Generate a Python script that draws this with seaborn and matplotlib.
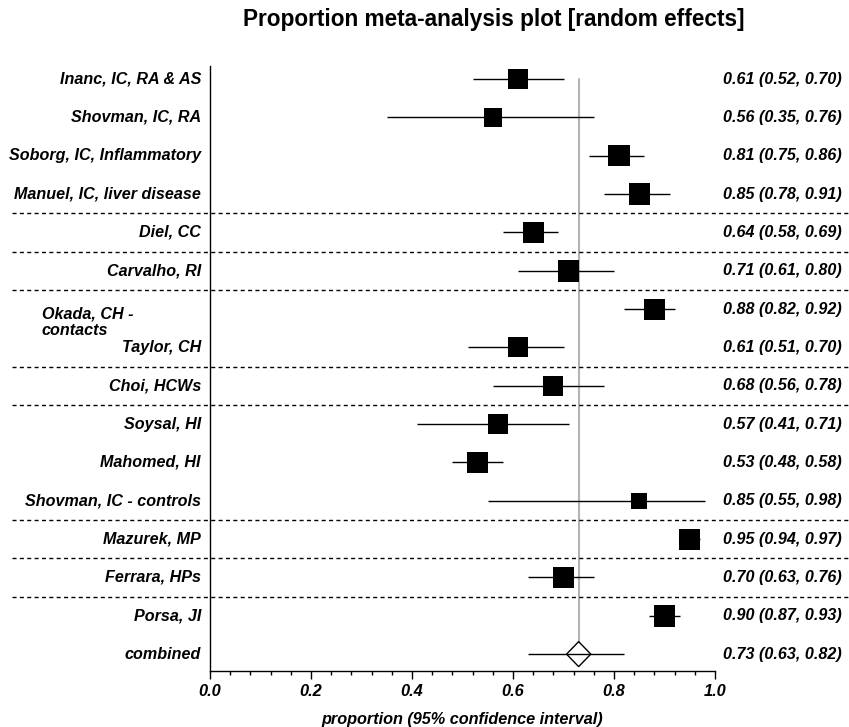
import matplotlib
matplotlib.use("Agg")
import matplotlib.pyplot as plt
import matplotlib.transforms as mtransforms
from matplotlib.ticker import MultipleLocator, FormatStrFormatter
import pandas as pd
import seaborn as sns

# ---- data -------------------------------------------------------------
studies = [
    "Inanc, IC, RA & AS", "Shovman, IC, RA", "Soborg, IC, Inflammatory",
    "Manuel, IC, liver disease", "Diel, CC", "Carvalho, RI",
    "Okada, CH -\ncontacts", "Taylor, CH", "Choi, HCWs", "Soysal, HI",
    "Mahomed, HI", "Shovman, IC - controls", "Mazurek, MP", "Ferrara, HPs",
    "Porsa, JI",
]
proportion = [0.61, 0.56, 0.81, 0.85, 0.64, 0.71, 0.88, 0.61, 0.68, 0.57,
              0.53, 0.85, 0.95, 0.70, 0.90]
ci_low = [0.52, 0.35, 0.75, 0.78, 0.58, 0.61, 0.82, 0.51, 0.56, 0.41,
          0.48, 0.55, 0.94, 0.63, 0.87]
ci_high = [0.70, 0.76, 0.86, 0.91, 0.69, 0.80, 0.92, 0.70, 0.78, 0.71,
           0.58, 0.98, 0.97, 0.76, 0.93]
pooled_label = "combined"
pooled = 0.73
pooled_low = 0.63
pooled_high = 0.82
# index of the last study in each group (a dashed separator follows it)
group_ends = [3, 4, 5, 7, 8, 11, 12, 13]

# ---- styling ----------------------------------------------------------
box_px = [19.3, 18.3, 21.3, 21.3, 21, 21.7, 21, 20, 20, 20, 21, 15.7,
          21, 21.7, 21.7]          # square side (pixels) ~ study weight
W, H, DPI = 849, 727, 100

sns.set_theme(style="white")
plt.rcParams["font.family"] = ["Liberation Sans", "DejaVu Sans"]
plt.rcParams["text.color"] = "black"
plt.rcParams["axes.labelcolor"] = "black"
plt.rcParams["xtick.color"] = "black"

fig = plt.figure(figsize=(W / DPI, H / DPI), dpi=DPI)
ax = fig.add_axes([210 / W, 56 / H, 505 / W, 605 / H])

n = len(studies)
rows = list(range(n))
df = pd.DataFrame({"study": studies, "p": proportion, "lo": ci_low,
                   "hi": ci_high, "row": rows,
                   "s": [(b * 72 / DPI) ** 2 for b in box_px]})

# vertical reference line at the pooled estimate
ax.plot([pooled, pooled], [0, n - 0.326], color="#b4b4b4", lw=1.5, zorder=1)

# confidence intervals
ax.hlines(df["row"], df["lo"], df["hi"], color="black", lw=1.0, zorder=2)
ax.hlines(n, pooled_low, pooled_high, color="black", lw=1.0, zorder=2)

# study squares
sns.scatterplot(data=df, x="p", y="row", marker="s", s=df["s"].tolist(),
                color="black", linewidth=0, ax=ax, zorder=3, legend=False)

# pooled diamond
dw, dh = 0.024, 0.326
ax.fill([pooled - dw, pooled, pooled + dw, pooled],
        [n, n - dh, n, n + dh], facecolor="none", edgecolor="black",
        lw=1.0, zorder=4)

ax.set_xlim(0, 1)
ax.set_ylim(n + 0.44, -0.34)

# group separators spanning the full figure width
blend = mtransforms.blended_transform_factory(fig.transFigure, ax.transData)
for g in group_ends:
    ax.plot([12 / W, 1.0], [g + 0.5, g + 0.5], transform=blend,
            color="black", lw=1.0, dashes=(2.9, 2.4), clip_on=False,
            zorder=1)

# labels
lab_kw = dict(fontsize=11.6, fontweight="bold", fontstyle="italic",
              color="black")
ytr = ax.get_yaxis_transform()
for i, name in enumerate(studies):
    if "\n" in name:
        ax.text(-0.333, i - 0.08, name, transform=ytr, ha="left", va="top",
                linespacing=1.2, **lab_kw)
    else:
        ax.text(-0.018, i, name, transform=ytr, ha="right", va="center",
                **lab_kw)
    ax.text(1.016, i, f"{proportion[i]:.2f} ({ci_low[i]:.2f}, {ci_high[i]:.2f})",
            transform=ytr, ha="left", va="center", **lab_kw)
ax.text(-0.018, n, pooled_label, transform=ytr, ha="right", va="center",
        **lab_kw)
ax.text(1.016, n, f"{pooled:.2f} ({pooled_low:.2f}, {pooled_high:.2f})",
        transform=ytr, ha="left", va="center", **lab_kw)

# axes furniture
ax.set_yticks([])
ax.set_ylabel("")
ax.xaxis.set_major_locator(MultipleLocator(0.2))
ax.xaxis.set_minor_locator(MultipleLocator(0.04))
ax.xaxis.set_major_formatter(FormatStrFormatter("%.1f"))
ax.tick_params(axis="x", which="major", direction="out", length=5.5,
               width=1, color="black", pad=3.5, bottom=True)
ax.tick_params(axis="x", which="minor", direction="out", length=3.2,
               width=1, color="black", bottom=True)
for lbl in ax.get_xticklabels():
    lbl.set_fontsize(11.8)
    lbl.set_fontweight("bold")
    lbl.set_fontstyle("italic")
    lbl.set_color("black")
ax.set_xlabel("proportion (95% confidence interval)", fontsize=11.7,
              fontweight="bold", fontstyle="italic", labelpad=10,
              color="black")
for side in ("top", "right"):
    ax.spines[side].set_visible(False)
for side in ("left", "bottom"):
    ax.spines[side].set_color("black")
    ax.spines[side].set_linewidth(1.0)

fig.text(243 / W, 1 - 26 / H, "Proportion meta-analysis plot [random effects]",
         ha="left", va="baseline", fontsize=16.3, fontweight="bold",
         color="black")

fig.savefig("out.png", dpi=DPI)
